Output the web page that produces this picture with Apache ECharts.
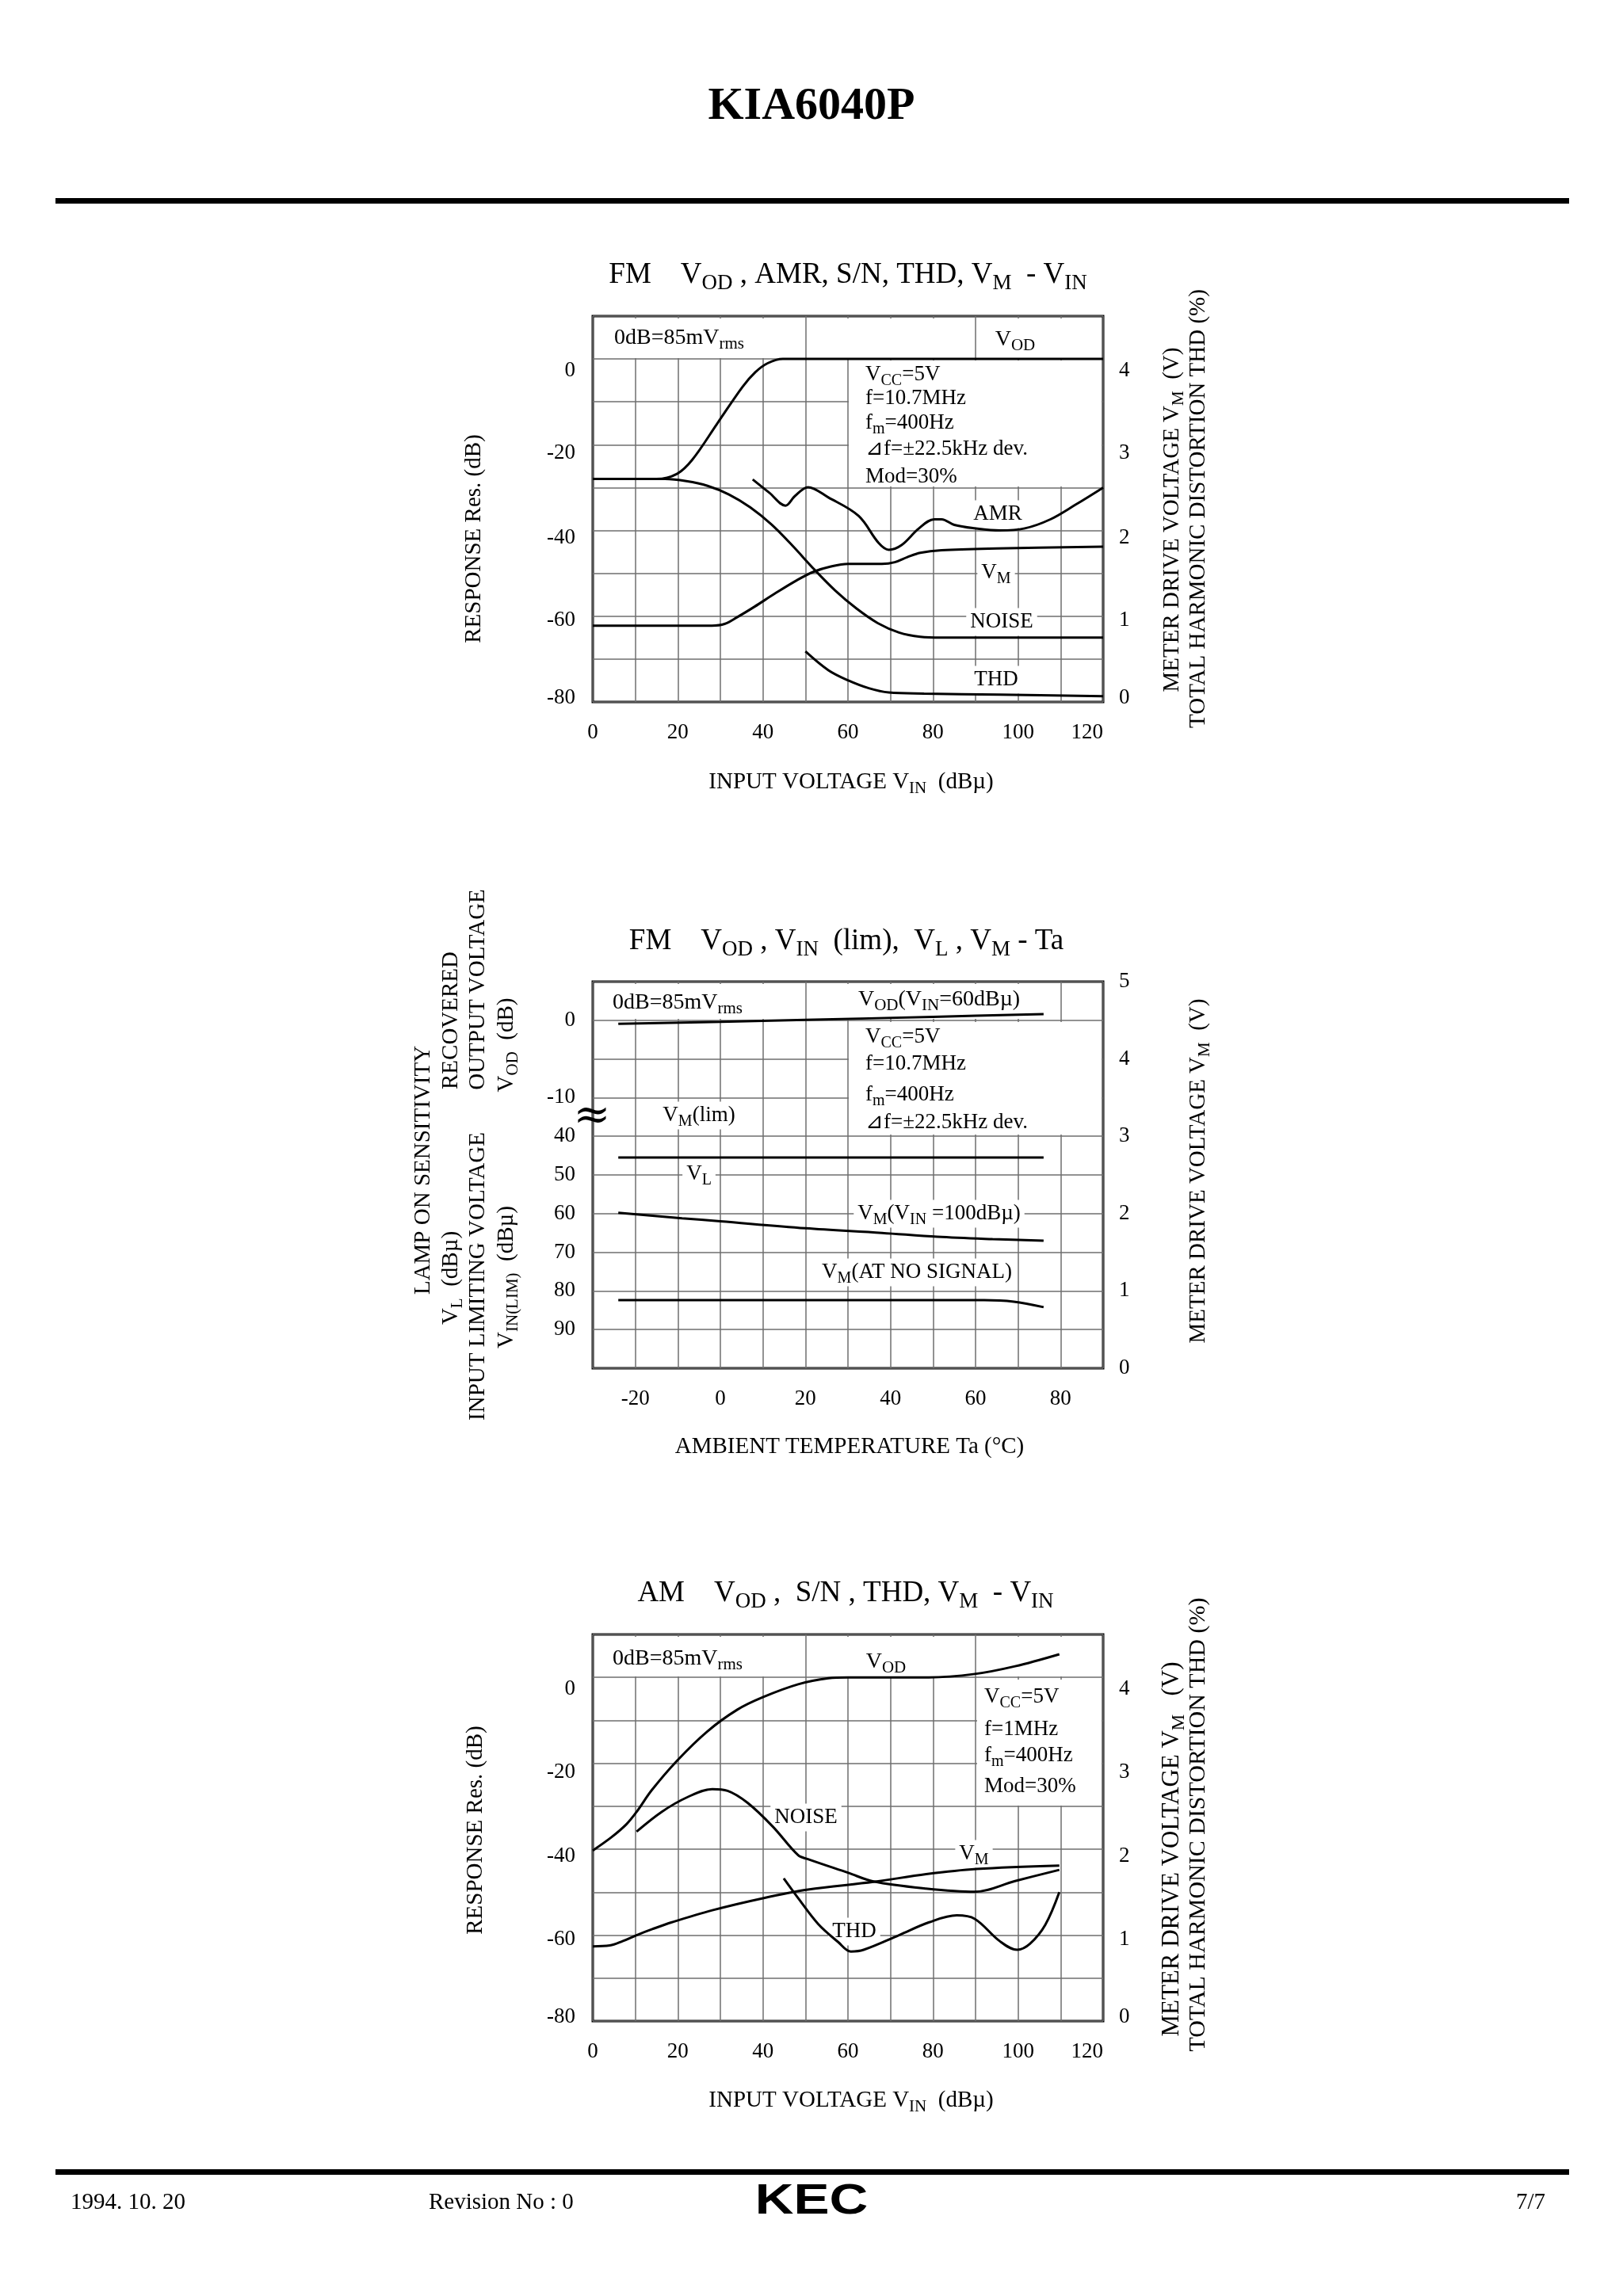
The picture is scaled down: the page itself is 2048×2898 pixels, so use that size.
<!DOCTYPE html>
<html><head><meta charset="utf-8">
<script src="https://cdn.jsdelivr.net/npm/echarts@6/dist/echarts.min.js"></script>
<style>html,body{margin:0;padding:0;background:#fff}#c{width:2048px;height:2898px}</style>
</head><body><div id="c"></div>
<script>
// ---------- DATA ----------
// Chart 1: FM  VOD, AMR, S/N, THD, VM - VIN   (x: VIN dBµ)
const fmVod   = [[0,-28],[15,-28],[19.8,-26.8],[23.4,-23.5],[29.3,-15],[35.2,-6.5],[38.2,-3.1],[41.1,-1],[44.7,0],[120,0]];
const fmNoise = [[0,-28],[17,-28],[22,-28.5],[27,-29.6],[32,-31.6],[37,-34.6],[42,-38.6],[47,-43.6],[52,-49],[57,-54],[62,-58.2],[67,-61.6],[72,-63.8],[77,-64.8],[82,-65],[120,-65]];
const fmAmr   = [[37.6,-28.1],[41.5,-31.2],[45.3,-34.2],[47.5,-32],[50.6,-29.9],[55.4,-32.3],[62.5,-36.6],[67.2,-42.9],[69.6,-44.5],[72.6,-43.4],[76.7,-39.5],[80.3,-37.4],[82,-37.4],[85,-38.7],[89.8,-39.5],[95.7,-40],[101.6,-39.5],[107.6,-37.4],[113.5,-34],[120,-30]];
const fmVm    = [[0,0.89],[28,0.89],[31,0.91],[34,0.99],[38,1.11],[43,1.27],[48,1.42],[52,1.52],[56,1.58],[60,1.61],[68,1.61],[71,1.63],[74,1.69],[77,1.74],[82,1.77],[95,1.79],[120,1.81]];
const fmThd   = [[50,0.59],[55.4,0.37],[60.1,0.25],[64.9,0.16],[69.6,0.11],[77.9,0.097],[95.7,0.085],[120,0.068]];
// Chart 2: FM  VOD, VIN(lim), VL, VM - Ta   (x: Ta °C)
const taVod   = [[-24,-0.45],[0,-0.2],[20,0.05],[50,0.45],[76,0.8]];
const taVl    = [[-24,45.5],[76,45.5]];
const taVm100 = [[-24,2.01],[-9,1.94],[0,1.9],[20,1.81],[38,1.75],[51,1.7],[64,1.67],[76,1.65]];
const taVm0   = [[-24,0.88],[62,0.88],[69,0.86],[76,0.79]];
// Chart 3: AM  VOD, S/N, THD, VM - VIN
const amVod   = [[0,-40.3],[4.4,-37.2],[7.9,-34.2],[10.3,-31.3],[13.9,-26.2],[19.8,-19.4],[26.9,-12.6],[34,-7.5],[40,-4.6],[48.3,-1.6],[55.4,-0.2],[60,0],[79,0],[89.8,0.8],[99.3,2.6],[109.7,5.4]];
const amNoise = [[10.3,-35.9],[16.2,-31.3],[22.2,-27.9],[28.1,-26],[31.7,-26.4],[36.4,-29.2],[42.3,-34.7],[48.3,-41.4],[50.6,-42.3],[60.1,-45.5],[66,-47.5],[77.9,-49.1],[89.8,-49.9],[99.3,-47.4],[109.7,-44.8]];
const amVm    = [[0,0.87],[4,0.88],[7,0.93],[10.3,1.0],[14,1.07],[18.6,1.15],[28.1,1.29],[40,1.43],[50.6,1.53],[66,1.62],[78.4,1.71],[90.2,1.77],[109.7,1.81]];
const amThd   = [[44.9,1.66],[48.3,1.43],[53,1.13],[57.7,0.92],[60.7,0.81],[63.7,0.83],[72,1.0],[79.1,1.15],[85.6,1.23],[89.8,1.19],[95.7,0.93],[99.8,0.83],[102.8,0.9],[106.4,1.12],[109.7,1.5]];
// tick labels
const dbTicks  = [0, -20, -40, -60, -80];
const vTicks   = [4, 3, 2, 1, 0];

// ---------- HELPERS ----------
const SERIF = '"Liberation Serif","Times New Roman",serif';
function T(x, y, str, size, o) {
  o = o || {};
  const parts = str.split(/(_\{[^}]*\})/);
  let text = '';
  parts.forEach(p => { if (!p) return; if (p.startsWith('_{')) text += '{s|' + p.slice(2, -1) + '}'; else text += '{n|' + p + '}'; });
  const al = o.align || 'center';
  return {
    type: 'text', x: x, y: y, rotation: o.rot || 0, z: o.z || 10,
    style: {
      text: text,
      rich: {
        n: { fontSize: size, fontFamily: SERIF, fontWeight: o.bold ? 'bold' : 'normal', lineHeight: Math.round(size * 1.3), verticalAlign: 'middle', fill: '#000' },
        s: { fontSize: Math.round(size * 0.74), fontFamily: SERIF, lineHeight: Math.round(size * 0.74), verticalAlign: 'bottom', fill: '#000' }
      },
      align: al, verticalAlign: 'middle', textAlign: al, textVerticalAlign: 'middle',
      backgroundColor: o.bg || null, padding: o.bg ? [0, 5] : 0, fill: '#000'
    }
  };
}
function M(x, y, w, h) { return { type: 'rect', z: 1, shape: { x: x, y: y, width: w, height: h }, style: { fill: '#fff' } }; }

const base = { fontSize: 27, fontFamily: SERIF, color: '#000' };
const lab = (fmt, extra) => Object.assign({ formatter: fmt }, base, { margin: 22 }, extra || {});
const split = { show: true, lineStyle: { color: '#6e6e6e', width: 1.5 } };
const shiftRich = {
  a: Object.assign({ padding: [30, 0, 0, 0] }, base),
  b: Object.assign({ padding: [22, 0, 0, 0] }, base),
  c: Object.assign({ padding: [18, 0, 0, 0] }, base),
  d: Object.assign({ padding: [10, 0, 0, 0] }, base),
  e: Object.assign({ padding: [0, 0, 10, 0] }, base)
};
const keys = ['a', 'b', 'c', 'd', 'e'];
const shiftFmt = ticks => v => { const i = ticks.indexOf(v); return i < 0 ? '' : '{' + keys[i] + '|' + v + '}'; };

function xAx(g, min, max) {
  return { gridIndex: g, type: 'value', min: min, max: max, interval: 10,
    axisLine: { show: false }, axisTick: { show: false }, splitLine: split,
    axisLabel: lab(v => (v % 20 === 0 && v < max) || (v === max && max === 120) ? String(v) : '', { margin: 25, alignMaxLabel: max === 120 ? 'right' : null }) };
}
function yAx(g, min, max, step, pos, fmt, showSplit, inverse, rich) {
  const l = lab(fmt, { margin: pos === 'right' ? 20 : 22 });
  if (rich) l.rich = rich;
  return { gridIndex: g, type: 'value', min: min, max: max, interval: step, position: pos, inverse: !!inverse,
    axisLine: { show: false }, axisTick: { show: false }, splitLine: showSplit ? split : { show: false },
    axisLabel: l };
}
const intLab = mx => v => (Math.abs(v - Math.round(v)) < 1e-6 && v <= mx) ? String(Math.round(v)) : '';

function line(data, xi, yi) {
  return { type: 'line', data: data, xAxisIndex: xi, yAxisIndex: yi, showSymbol: false, smooth: 0.35, silent: true,
    lineStyle: { color: '#000', width: 3 }, z: 3 };
}

const G = [
  { left: 748, top: 399, width: 644, height: 487 },
  { left: 748, top: 1239, width: 644, height: 488 },
  { left: 748, top: 2063, width: 644, height: 488 }
];

const chart = echarts.init(document.getElementById('c'), null, { renderer: 'canvas' });
const R = Math.PI / 2;
const graphics = [
  // header / footer
  T(1024, 135, 'KIA6040P', 58, { bold: true }),
  { type: 'rect', z: 5, shape: { x: 70, y: 250, width: 1910, height: 7 }, style: { fill: '#000' } },
  { type: 'rect', z: 5, shape: { x: 70, y: 2738, width: 1910, height: 7 }, style: { fill: '#000' } },
  T(89, 2780, '1994. 10. 20', 29, { align: 'left' }),
  T(541, 2780, 'Revision No : 0', 29, { align: 'left' }),
  { type: 'text', x: 1024, y: 2779, z: 10, scaleX: 1.25, style: { text: 'KEC', font: 'bold 54px "Liberation Sans", Arial, sans-serif', fill: '#000', align: 'center', verticalAlign: 'middle', textAlign: 'center', textVerticalAlign: 'middle' } },
  T(1950, 2780, '7/7', 29, { align: 'right' }),

  // ---- chart 1 ----
  T(1070, 347, 'FM    V_{OD} , AMR, S/N, THD, V_{M}  - V_{IN}', 37),
  T(598, 680, 'RESPONSE Res. (dB)', 29, { rot: R }),
  T(1479, 656, 'METER DRIVE VOLTAGE V_{M}  (V)', 29, { rot: R }),
  T(1512, 642, 'TOTAL HARMONIC DISTORTION THD (%)', 29, { rot: R }),
  T(1074, 987, 'INPUT VOLTAGE V_{IN}  (dBµ)', 29),
  M(751, 402, 262, 50), M(1019, 402, 209, 50), M(1233, 402, 157, 50),
  M(1071, 455, 319, 159),
  T(775, 427, '0dB=85mV_{rms}', 28, { align: 'left', z: 2 }),
  T(1281, 429, 'V_{OD}', 28, { z: 2 }),
  T(1092, 473, 'V_{CC}=5V', 27, { align: 'left', z: 2 }),
  T(1092, 503, 'f=10.7MHz', 27, { align: 'left', z: 2 }),
  T(1092, 534, 'f_{m}=400Hz', 27, { align: 'left', z: 2 }),
  T(1092, 567, '⊿f=±22.5kHz dev.', 27, { align: 'left', z: 2 }),
  T(1092, 602, 'Mod=30%', 27, { align: 'left', z: 2 }),
  T(1259, 649, 'AMR', 27, { bg: '#fff', z: 2 }),
  T(1257, 723, 'V_{M}', 27, { bg: '#fff', z: 2 }),
  T(1264, 785, 'NOISE', 27, { bg: '#fff', z: 2 }),
  T(1257, 858, 'THD', 27, { bg: '#fff', z: 2 }),

  // ---- chart 2 ----
  T(1068, 1188, 'FM    V_{OD} , V_{IN}  (lim),  V_{L} , V_{M} - Ta', 37),
  T(534, 1477, 'LAMP ON SENSITIVITY', 29, { rot: R }),
  T(569, 1288, 'RECOVERED', 29, { rot: R }),
  T(569, 1613, 'V_{L}  (dBµ)', 29, { rot: R }),
  T(603, 1249, 'OUTPUT VOLTAGE', 29, { rot: R }),
  T(603, 1611, 'INPUT LIMITING VOLTAGE', 29, { rot: R }),
  T(639, 1319, 'V_{OD}  (dB)', 29, { rot: R }),
  T(639, 1612, 'V_{IN(LIM)}  (dBµ)', 29, { rot: R }),
  T(1512, 1478, 'METER DRIVE VOLTAGE V_{M}  (V)', 29, { rot: R }),
  T(1072, 1826, 'AMBIENT TEMPERATURE Ta (°C)', 29),
  M(751, 1242, 262, 44), M(1019, 1242, 317, 44),
  M(1071, 1290, 319, 142),
  T(773, 1266, '0dB=85mV_{rms}', 28, { align: 'left', z: 2 }),
  T(1185, 1262, 'V_{OD}(V_{IN}=60dBµ)', 28, { z: 2 }),
  T(1092, 1309, 'V_{CC}=5V', 27, { align: 'left', z: 2 }),
  T(1092, 1343, 'f=10.7MHz', 27, { align: 'left', z: 2 }),
  T(1092, 1382, 'f_{m}=400Hz', 27, { align: 'left', z: 2 }),
  T(1092, 1417, '⊿f=±22.5kHz dev.', 27, { align: 'left', z: 2 }),
  T(882, 1408, 'V_{M}(lim)', 27, { bg: '#fff', z: 2 }),
  T(882, 1482, 'V_{L}', 27, { bg: '#fff', z: 2 }),
  T(1185, 1532, 'V_{M}(V_{IN} =100dBµ)', 27, { bg: '#fff', z: 2 }),
  T(1157, 1606, 'V_{M}(AT NO SIGNAL)', 27, { bg: '#fff', z: 2 }),
  { type: 'text', x: 747, y: 1410, z: 12, style: { text: '≈', font: '56px "DejaVu Serif", serif', fill: '#000', align: 'center', verticalAlign: 'middle', textAlign: 'center', textVerticalAlign: 'middle' } },

  // ---- chart 3 ----
  T(1067, 2011, 'AM    V_{OD} ,  S/N , THD, V_{M}  - V_{IN}', 37),
  T(600, 2310, 'RESPONSE Res. (dB)', 29, { rot: R }),
  T(1479, 2334, 'METER DRIVE VOLTAGE V_{M}   (V)', 31, { rot: R }),
  T(1512, 2303, 'TOTAL HARMONIC DISTORTION THD (%)', 30, { rot: R }),
  T(1074, 2651, 'INPUT VOLTAGE V_{IN}  (dBµ)', 29),
  M(751, 2066, 262, 50), M(1019, 2066, 209, 50), M(1233, 2066, 157, 50),
  M(1233, 2120, 157, 159),
  T(773, 2094, '0dB=85mV_{rms}', 28, { align: 'left', z: 2 }),
  T(1118, 2098, 'V_{OD}', 28, { z: 2 }),
  T(1242, 2142, 'V_{CC}=5V', 27, { align: 'left', z: 2 }),
  T(1242, 2183, 'f=1MHz', 27, { align: 'left', z: 2 }),
  T(1242, 2216, 'f_{m}=400Hz', 27, { align: 'left', z: 2 }),
  T(1242, 2255, 'Mod=30%', 27, { align: 'left', z: 2 }),
  T(1017, 2294, 'NOISE', 27, { bg: '#fff', z: 2 }),
  T(1229, 2340, 'V_{M}', 27, { bg: '#fff', z: 2 }),
  T(1078, 2438, 'THD', 27, { bg: '#fff', z: 2 })
];

const option = {
  animation: false,
  backgroundColor: '#fff',
  grid: G.map(g => Object.assign({ show: true, borderColor: '#000', borderWidth: 3, backgroundColor: 'transparent', containLabel: false }, g)),
  xAxis: [xAx(0, 0, 120), xAx(1, -30, 90), xAx(2, 0, 120)],
  yAxis: [
    yAx(0, -80, 10, 10, 'left', shiftFmt(dbTicks), true, false, shiftRich),
    yAx(0, 0, 4.5, 0.5, 'right', shiftFmt(vTicks), false, false, shiftRich),
    yAx(1, -45, 5, 5, 'left', v => (v === 0 || v === -10) ? String(v) : '', true),
    yAx(1, 0, 100, 10, 'left', v => (v >= 40 && v <= 90) ? String(v) : '', false, true),
    yAx(1, 0, 5, 0.5, 'right', intLab(5), false),
    yAx(2, -80, 10, 10, 'left', shiftFmt(dbTicks), true, false, shiftRich),
    yAx(2, 0, 4.5, 0.5, 'right', shiftFmt(vTicks), false, false, shiftRich)
  ],
  series: [
    line(fmVod, 0, 0), line(fmNoise, 0, 0), line(fmAmr, 0, 0), line(fmVm, 0, 1), line(fmThd, 0, 1),
    line(taVod, 1, 2), line(taVl, 1, 3), line(taVm100, 1, 4), line(taVm0, 1, 4),
    line(amVod, 2, 5), line(amNoise, 2, 5), line(amVm, 2, 6), line(amThd, 2, 6)
  ],
  graphic: { elements: graphics }
};
chart.setOption(option);
</script></body></html>
